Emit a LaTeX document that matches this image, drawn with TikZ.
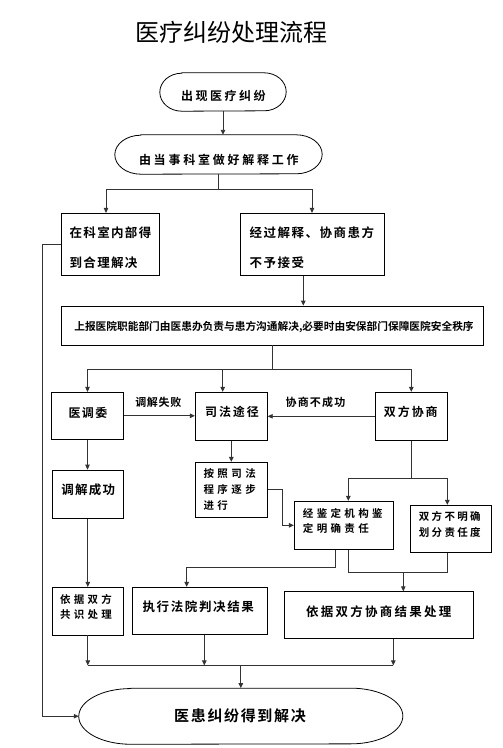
\documentclass[tikz,border=0pt]{standalone}
\usepackage{fontspec}
\setmainfont{Noto Sans CJK SC}[BoldFont={* Bold}]
\usetikzlibrary{arrows.meta,calc}
\newcommand\fz[3]{\fontsize{#1}{#2}\selectfont\bfseries\addfontfeature{LetterSpace=#3}}
\newcommand\stad[3]{%
 \draw[line width=0.8pt] ([xshift=#2pt]#1.north west) -- ([xshift=-#2pt]#1.north east)
   arc[start angle=-90,end angle=90,x radius=#2,y radius=#3]
   -- ([xshift=#2pt]#1.south west)
   arc[start angle=90,end angle=270,x radius=#2,y radius=#3] -- cycle;}
\begin{document}
\begin{tikzpicture}[x=1pt,y=-1pt,
  box/.style={draw, line width=0.8pt, inner sep=0pt},
  con/.style={draw=black!80, line width=0.9pt},
  arr/.style={con, -{Triangle[length=5pt,width=4.5pt]}},
  txt/.style={inner sep=0pt, align=left}]
\fill[white] (0,0) rectangle (503,748);
\path[use as bounding box] (0,0) rectangle (503,748);

% title
\node[txt, font=\fontsize{24}{28}\selectfont] (title) at (231.5,32) {医疗纠纷处理流程};

% shapes
\node[inner sep=0pt, minimum width=126pt, minimum height=38pt] (n1) at (223,92) {};
\stad{n1}{22}{19}
\node[inner sep=0pt, minimum width=207pt, minimum height=39pt] (n2) at (218.5,154.5) {};
\stad{n2}{26}{19.5}
\node[box, minimum width=97.6pt, minimum height=62pt] (b3) at (110.5,244.3) {};
\node[box, minimum width=143.6pt, minimum height=62pt] (b4) at (312.5,244.3) {};
\node[box, minimum width=421.6pt, minimum height=39pt] (b5) at (272.5,325.5) {};
\node[box, minimum width=71.6pt, minimum height=47pt] (med) at (87.5,415.8) {};
\node[box, minimum width=72pt, minimum height=48pt] (sf) at (231.3,416.3) {};
\node[box, minimum width=72pt, minimum height=48pt] (xs) at (411.3,416.3) {};
\node[box, minimum width=71pt, minimum height=48.3pt] (tj) at (87.8,494.2) {};
\node[box, minimum width=72pt, minimum height=55pt] (af) at (231.3,489.8) {};
\node[box, minimum width=99pt, minimum height=48pt] (jd) at (343.8,525.3) {};
\node[box, minimum width=81.4pt, minimum height=47pt] (bm) at (451,528.8) {};
\node[box, minimum width=71pt, minimum height=47.7pt] (gs) at (87.8,611.2) {};
\node[box, minimum width=135pt, minimum height=47pt] (zx) at (199.8,610.8) {};
\node[box, minimum width=189pt, minimum height=46.6pt] (xj) at (378.8,615) {};
\node[inner sep=0pt, minimum width=323.7pt, minimum height=55.7pt] (fin) at (240.8,716.2) {};
\stad{fin}{52}{27.85}

% texts
\node[txt, font=\fz{12}{14}{21}] (n1t) at (223.3,96) {出现医疗纠纷};
\node[txt, font=\fz{12}{14}{23}] (n2t) at (218.8,160) {由当事科室做好解释工作};
\node[txt, anchor=west, font=\fz{12.5}{30}{11}] (b3t) at (69.3,248) {在科室内部得\\到合理解决};
\node[txt, anchor=west, font=\fz{12.5}{30}{12}] (b4t) at (249.3,248) {经过解释、协商患方\\不予接受};
\node[txt, font=\fz{10.7}{12}{0}] (b5t) at (274,326.7) {上报医院职能部门由医患办负责与患方沟通解决,必要时由安保部门保障医院安全秩序};
\node[txt, font=\fz{12}{14}{12}] (medt) at (88,412.5) {医调委};
\node[txt, font=\fz{11}{13}{6}] (l1) at (158.3,402) {调解失败};
\node[txt, font=\fz{11}{13}{11}] (l2) at (315.5,402) {协商不成功};
\node[txt, font=\fz{12}{14}{16}] (sft) at (232,412) {司法途径};
\node[txt, font=\fz{12}{14}{16}] (xst) at (410.8,412) {双方协商};
\node[txt, font=\fz{12.5}{14}{10}] (tjt) at (88.3,490) {调解成功};
\node[txt, anchor=west, font=\fz{10.5}{16}{33}] (aft) at (203.3,489.7) {按照司法\\程序逐步\\进行};
\node[txt, anchor=west, font=\fz{10.5}{15}{32}] (jdt) at (302.7,520.8) {经鉴定机构鉴\\定明确责任};
\node[txt, anchor=west, font=\fz{10.5}{16}{22}] (bmt) at (418.7,524.7) {双方不明确\\划分责任度};
\node[txt, anchor=west, font=\fz{10.5}{15.3}{31}] (gst) at (60,606.7) {依据双方\\共识处理};
\node[txt, font=\fz{12.5}{14}{13}] (zxt) at (198.3,606.7) {执行法院判决结果};
\node[txt, font=\fz{12.5}{14}{18}] (xjt) at (378.8,611.7) {依据双方协商结果处理};
\node[txt, font=\fz{15}{17}{11}] (fint) at (240,715.7) {医患纠纷得到解决};

% connectors
\draw[arr] (n1.south) -- (n1.south |- n2.north);
\draw[con] (n2.south) -- ++(0,15) coordinate (s1);
\draw[arr] (s1) -| ([xshift=-4.5pt]b3.north);
\draw[arr] (s1) -| ([xshift=-0.5pt]b4.north);
\draw[arr] ([xshift=-9.2pt]b4.south) -- ([xshift=-9.2pt]b4.south |- b5.north);
\draw[con] (b5.south) -- ++(0,24) coordinate (s2);
\draw[arr] (s2) -| (med.north);
\draw[arr] (s2) -| ([xshift=-8.6pt]sf.north);
\draw[arr] (s2) -| (xs.north);
\draw[arr] (med.east) -- (med.east -| sf.west);
\draw[arr] (xs.west) -- (xs.west -| sf.east);
\draw[arr] (med.south) -- (med.south |- tj.north);
\draw[arr] (sf.south) -- (sf.south |- af.north);
\draw[arr] (af.east) -- ++(14.4,0) |- (jd.west);
\draw[con] (xs.south) -- ++(0,37.4) coordinate (s3);
\draw[arr] (s3) -| ([xshift=4.5pt]jd.north);
\draw[arr] (s3) -| ([xshift=-3.7pt]bm.north);
\draw[arr] ([xshift=-8.8pt]jd.south) -- ++(0,18) -| ([xshift=-13.1pt]zx.north);
\draw[con] ([xshift=4.5pt]jd.south) -- ++(0,22.4) coordinate (s4) -| ([xshift=-3.7pt]bm.south);
\draw[arr] ([xshift=24.5pt]xj.north |- s4) -- ([xshift=24.5pt]xj.north);
\draw[arr] (tj.south) -- (tj.south |- gs.north);
\draw[arr] (gs.south) -- ++(0,30) coordinate (m1);
\draw[arr] ([xshift=4.5pt]zx.south) -- ([xshift=4.5pt]zx.south |- m1);
\draw[arr] ([xshift=14.5pt]xj.south) -- ([xshift=14.5pt]xj.south |- m1) coordinate (m3);
\draw[con] (m1) -- (m3);
\draw[arr] (m1 -| fin.north) -- (fin.north);
\draw[arr] (b3.west) -- ++(-18.4,0) |- (fin.west);
\end{tikzpicture}
\end{document}
